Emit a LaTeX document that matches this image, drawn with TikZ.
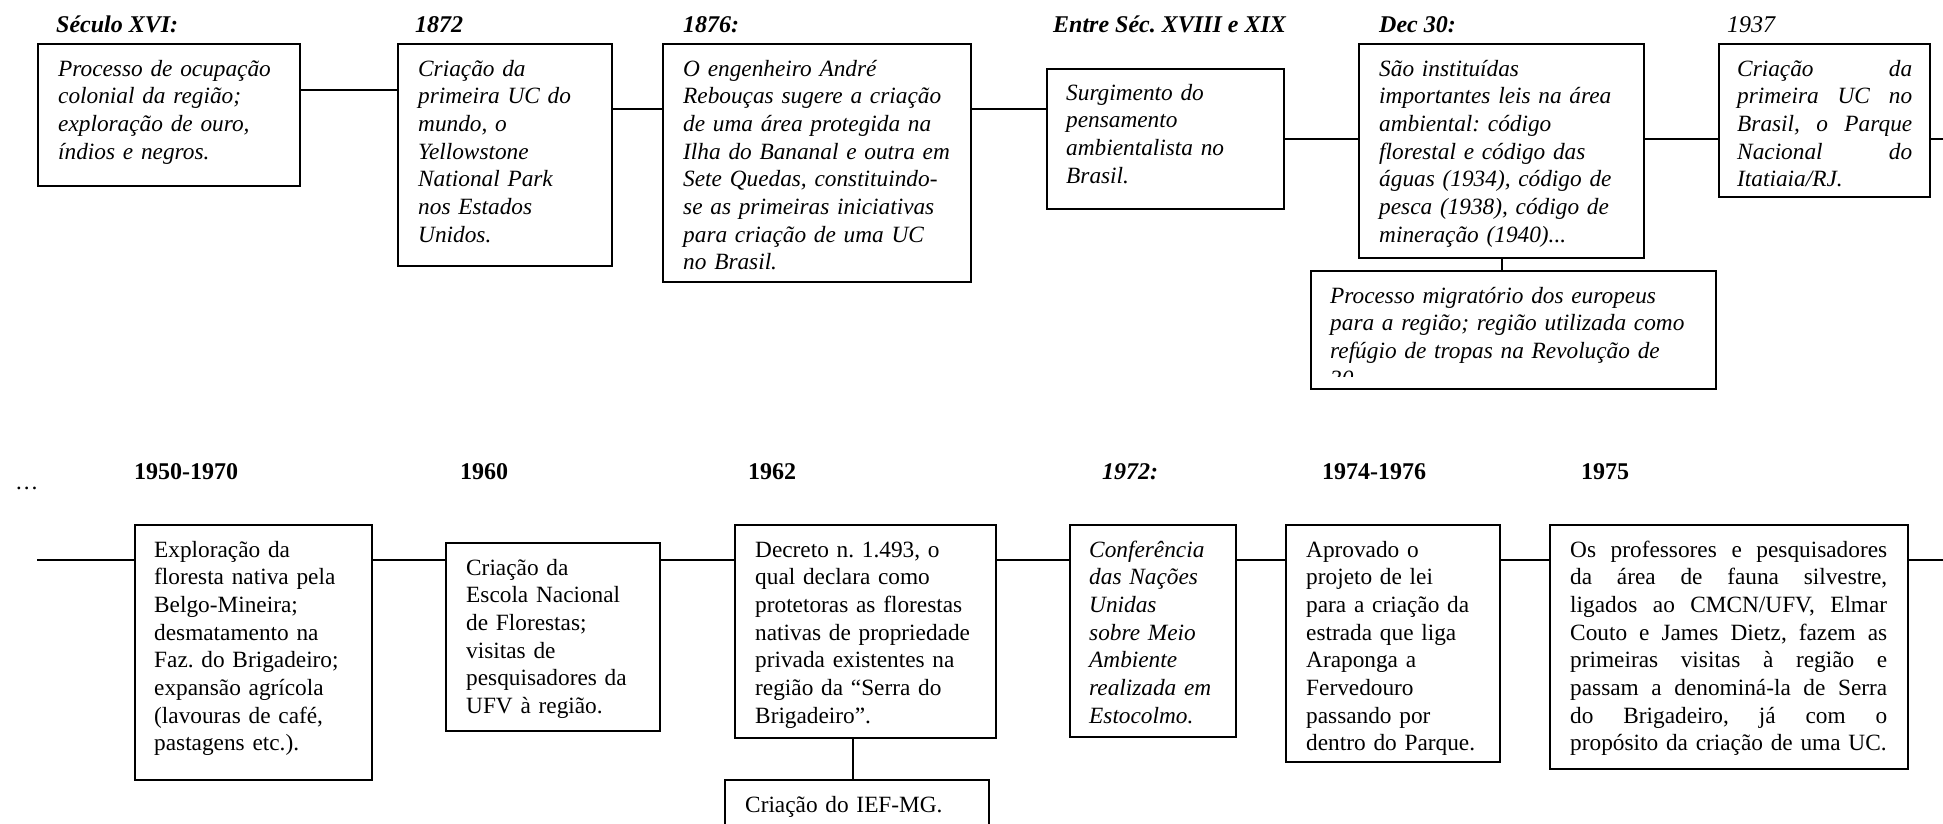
\documentclass[tikz,border=0pt]{standalone}
\usepackage{fontspec}
\setmainfont{Liberation Serif}
\frenchspacing
\newcommand{\jl}[2]{\leavevmode\hbox to #1{#2}}
\tikzset{
  box/.style={draw, line width=1.5pt, inner sep=0pt, anchor=north west},
  conn/.style={line width=1.5pt},
  txt/.style={anchor=base west, inner sep=0pt, text width=#1, align=left,
    font=\fontsize{23.3}{27.7}\selectfont},
  itxt/.style={txt=#1, font=\fontsize{23.3}{27.7}\selectfont\itshape},
  lab/.style={anchor=base west, inner sep=0pt, font=\fontsize{24}{28}\selectfont\bfseries},
  ilab/.style={anchor=base west, inner sep=0pt, font=\fontsize{24}{28}\selectfont\bfseries\itshape},
  plab/.style={anchor=base west, inner sep=0pt, font=\fontsize{24}{28}\selectfont\itshape}
}
\begin{document}
\begin{tikzpicture}[x=1pt,y=-1pt]
\useasboundingbox (0,0) rectangle (1943,823);
\fill[white] (0,0) rectangle (1943,823);

% ---------- Row 1 ----------
\node[ilab] (l1) at (56,32) {Século XVI:};
\node[ilab] (l2) at (415,32) {1872};
\node[ilab] (l3) at (683,32) {1876:};
\node[ilab] (l4) at (1053,32) {Entre Séc. XVIII e XIX};
\node[ilab] (l5) at (1379,32) {Dec 30:};
\node[plab] (l6) at (1727,32) {1937};

\node[box, minimum width=262, minimum height=142] (b1) at (37,43) {};
\node[box, minimum width=214, minimum height=222] (b2) at (397,43) {};
\node[box, minimum width=308, minimum height=238] (b3) at (662,43) {};
\node[box, minimum width=237, minimum height=140] (b4) at (1046,68) {};
\node[box, minimum width=285, minimum height=214] (b5) at (1358,43) {};
\node[box, minimum width=211, minimum height=153] (b6) at (1718,43) {};
\node[box, minimum width=405, minimum height=118] (b7) at (1310,270) {};

\node[itxt=230pt] (t1) at (58,76) {Processo de ocupação\\colonial da região;\\exploração de ouro,\\índios e negros.};
\node[itxt=190pt] (t2) at (418,76) {Criação da\\primeira UC do\\mundo, o\\Yellowstone\\National Park\\nos Estados\\Unidos.};
\node[itxt=290pt] (t3) at (683,76) {O engenheiro André\\Rebouças sugere a criação\\de uma área protegida na\\Ilha do Bananal e outra em\\Sete Quedas, constituindo-\\se as primeiras iniciativas\\para criação de uma UC\\no Brasil.};
\node[itxt=215pt] (t4) at (1066,100) {Surgimento do\\pensamento\\ambientalista no\\Brasil.};
\node[itxt=260pt] (t5) at (1379,76) {São instituídas\\importantes leis na área\\ambiental: código\\florestal e código das\\águas (1934), código de\\pesca (1938), código de\\mineração (1940)...};
\node[itxt=180pt] (t6) at (1737,76) {\jl{175pt}{Criação\hfill da}\\\jl{175pt}{primeira\hfill UC\hfill no}\\\jl{175pt}{Brasil,\hfill o\hfill Parque}\\\jl{175pt}{Nacional\hfill do}\\Itatiaia/RJ.};
\begin{scope}
\clip (1310,270) rectangle (1715,376);
\node[itxt=380pt] (t7) at (1330,303) {Processo migratório dos europeus\\para a região; região utilizada como\\refúgio de tropas na Revolução de\\30.};
\end{scope}

\coordinate (y1) at (0,90);
\coordinate (y2) at (0,109);
\coordinate (y3) at (0,139);
\coordinate (R1) at (1943,139);
\coordinate (v1) at (1502,0);
\draw[conn] (b1.east |- y1) -- (b2.west |- y1);
\draw[conn] (b2.east |- y2) -- (b3.west |- y2);
\draw[conn] (b3.east |- y2) -- (b4.west |- y2);
\draw[conn] (b4.east |- y3) -- (b5.west |- y3);
\draw[conn] (b5.east |- y3) -- (b6.west |- y3);
\draw[conn] (b6.east |- y3) -- (R1);
\draw[conn] (v1 |- b5.south) -- (v1 |- b7.north);

% ---------- Row 2 ----------
\node[anchor=base west, inner sep=0pt, font=\fontsize{23.3}{27.7}\selectfont] (dots) at (15,489) {…};
\node[lab] (l8) at (134,479) {1950-1970};
\node[lab] (l9) at (460,479) {1960};
\node[lab] (l10) at (748,479) {1962};
\node[ilab] (l12) at (1102,479) {1972:};
\node[lab] (l13) at (1322,479) {1974-1976};
\node[lab] (l14) at (1581,479) {1975};

\node[box, minimum width=237, minimum height=255] (b8) at (134,524) {};
\node[box, minimum width=214, minimum height=188] (b9) at (445,542) {};
\node[box, minimum width=261, minimum height=213] (b10) at (734,524) {};
\node[box, minimum width=264, minimum height=70] (b11) at (724,779) {};
\node[box, minimum width=166, minimum height=212] (b12) at (1069,524) {};
\node[box, minimum width=214, minimum height=237] (b13) at (1285,524) {};
\node[box, minimum width=358, minimum height=244] (b14) at (1549,524) {};

\node[txt=215pt] (t8) at (154,557) {Exploração da\\floresta nativa pela\\Belgo-Mineira;\\desmatamento na\\Faz. do Brigadeiro;\\expansão agrícola\\(lavouras de café,\\pastagens etc.).};
\node[txt=190pt] (t9) at (466,575) {Criação da\\Escola Nacional\\de Florestas;\\visitas de\\pesquisadores da\\UFV à região.};
\node[txt=240pt] (t10) at (755,557) {Decreto n. 1.493, o\\qual declara como\\protetoras as florestas\\nativas de propriedade\\privada existentes na\\região da “Serra do\\Brigadeiro”.};
\node[txt=240pt] (t11) at (745,812) {Criação do IEF-MG.};
\node[itxt=150pt] (t12) at (1089,557) {Conferência\\das Nações\\Unidas\\sobre Meio\\Ambiente\\realizada em\\Estocolmo.};
\node[txt=190pt] (t13) at (1306,557) {Aprovado o\\projeto de lei\\para a criação da\\estrada que liga\\Araponga a\\Fervedouro\\passando por\\dentro do Parque.};
\node[txt=325pt] (t14) at (1570,557) {\jl{317pt}{Os\hfill professores\hfill e\hfill pesquisadores}\\\jl{317pt}{da\hfill área\hfill de\hfill fauna\hfill silvestre,}\\\jl{317pt}{ligados\hfill ao\hfill CMCN/UFV,\hfill Elmar}\\\jl{317pt}{Couto\hfill e\hfill James\hfill Dietz,\hfill fazem\hfill as}\\\jl{317pt}{primeiras\hfill visitas\hfill à\hfill região\hfill e}\\\jl{317pt}{passam\hfill a\hfill denominá-la\hfill de\hfill Serra}\\\jl{317pt}{do\hfill Brigadeiro,\hfill já\hfill com\hfill o}\\propósito da criação de uma UC.};

\coordinate (L2) at (37,560);
\coordinate (R2) at (1943,560);
\coordinate (v2) at (853,0);
\draw[conn] (L2) -- (b8.west |- L2);
\draw[conn] (b8.east |- L2) -- (b9.west |- L2);
\draw[conn] (b9.east |- L2) -- (b10.west |- L2);
\draw[conn] (b10.east |- L2) -- (b12.west |- L2);
\draw[conn] (b12.east |- L2) -- (b13.west |- L2);
\draw[conn] (b13.east |- L2) -- (b14.west |- L2);
\draw[conn] (b14.east |- L2) -- (R2);
\draw[conn] (v2 |- b10.south) -- (v2 |- b11.north);
\end{tikzpicture}
\end{document}
